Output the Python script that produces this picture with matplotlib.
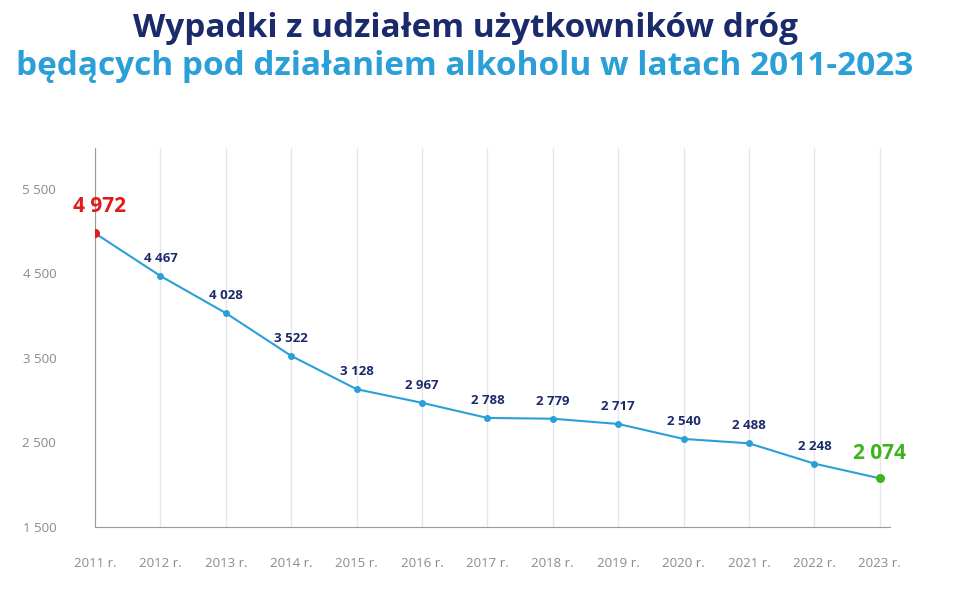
import matplotlib.pyplot as plt

years = list(range(2011, 2024))
accidents = [4972, 4467, 4028, 3522, 3128, 2967, 2788, 2779, 2717, 2540, 2488, 2248, 2074]
year_labels = [f"{y} r." for y in years]
y_ticks = [1500, 2500, 3500, 4500, 5500]

NAVY = "#1b2a6b"
BLUE = "#2b9fd8"

plt.rcParams['font.family'] = ['Open Sans', 'DejaVu Sans']

def fmt(v):
    return f"{v:,}".replace(",", " ")

fig = plt.figure(figsize=(9.55, 5.92), dpi=100)
ax = fig.add_axes([0.0995, 0.11, 0.832, 0.64])

ax.plot(years, accidents, color=BLUE, lw=1.5, zorder=3)
ax.scatter(years[1:-1], accidents[1:-1], s=16, color=BLUE, zorder=4)
ax.scatter(years[0], accidents[0], s=30, color="#e01b1b", zorder=5)
ax.scatter(years[-1], accidents[-1], s=30, color="#3db31c", zorder=5)

for i, (x, v) in enumerate(zip(years, accidents)):
    if i == 0:
        ax.annotate(fmt(v), (x, v), xytext=(3, 12), textcoords="offset points",
                    ha="center", va="bottom", fontsize=15, fontweight="bold", color="#e01b1b")
    elif i == len(years) - 1:
        ax.annotate(fmt(v), (x, v), xytext=(0, 10), textcoords="offset points",
                    ha="center", va="bottom", fontsize=15, fontweight="bold", color="#3db31c")
    else:
        ax.annotate(fmt(v), (x, v), xytext=(0, 8), textcoords="offset points",
                    ha="center", va="bottom", fontsize=9.5, fontweight="bold", color=NAVY)

ax.set_xlim(2011, 2023.15)
ax.set_ylim(1500, 5980)
ax.set_xticks(years)
ax.set_xticklabels(year_labels)
ax.set_yticks(y_ticks)
ax.set_yticklabels([fmt(t) for t in y_ticks])
ax.tick_params(axis="both", length=0, labelsize=9.5, labelcolor="#8a8a8a")
ax.tick_params(axis="x", pad=22)
ax.tick_params(axis="y", pad=28)
ax.grid(axis="x", color="#e6e6e6", lw=1)
for s in ["top", "right"]:
    ax.spines[s].set_visible(False)
for s in ["left", "bottom"]:
    ax.spines[s].set_color("#9a9a9a")

fig.text(0.487, 0.952, "Wypadki z udziałem użytkowników dróg", ha="center", va="center",
         fontsize=24, fontweight="bold", color=NAVY)
fig.text(0.487, 0.888, "będących pod działaniem alkoholu w latach 2011-2023", ha="center", va="center",
         fontsize=24, fontweight="bold", color=BLUE)

fig.savefig("out.png", dpi=100)
